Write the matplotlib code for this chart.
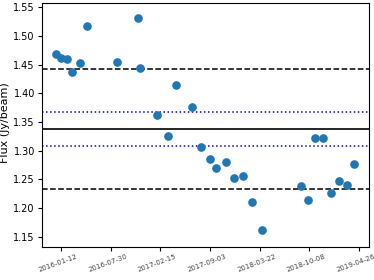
import matplotlib

matplotlib.use("Agg")
import matplotlib.dates as mdates
import matplotlib.pyplot as plt
import pandas as pd
from matplotlib.transforms import ScaledTranslation

obs_dates = [
    "2015-12-23", "2016-01-13", "2016-02-04", "2016-02-26", "2016-03-27",
    "2016-04-26", "2016-08-26", "2016-11-18", "2016-11-24", "2017-02-03",
    "2017-03-18", "2017-04-19", "2017-06-23", "2017-07-30", "2017-09-01",
    "2017-09-28", "2017-11-07", "2017-12-08", "2018-01-14", "2018-02-17",
    "2018-03-30", "2018-09-06", "2018-10-04", "2018-11-01", "2018-12-03",
    "2019-01-02", "2019-02-04", "2019-03-10", "2019-04-07",
]
flux = [
    1.468, 1.461, 1.460, 1.438, 1.453,
    1.518, 1.455, 1.532, 1.444, 1.362,
    1.326, 1.414, 1.376, 1.307, 1.286,
    1.269, 1.280, 1.252, 1.256, 1.210,
    1.162, 1.239, 1.214, 1.323, 1.323,
    1.226, 1.247, 1.240, 1.277,
]

flux_mean = 1.338
err_inner = 0.030   # dotted blue band
err_outer = 0.105   # dashed black band

tick_dates = ["2016-01-12", "2016-07-30", "2017-02-15", "2017-09-03",
              "2018-03-22", "2018-10-08", "2019-04-26"]

x = pd.to_datetime(obs_dates)

fig, ax = plt.subplots(figsize=(3.74, 2.8), dpi=100)
ax.plot(x, flux, "o", color="#1f77b4", markersize=5.2, zorder=3)

ax.axhline(flux_mean, color="black", linewidth=1.2)
ax.axhline(flux_mean + err_inner, color="blue", linestyle=":", linewidth=1.1)
ax.axhline(flux_mean - err_inner, color="blue", linestyle=":", linewidth=1.1)
ax.axhline(flux_mean + err_outer, color="black", linestyle="--", linewidth=1.1)
ax.axhline(flux_mean - err_outer, color="black", linestyle="--", linewidth=1.1)

ax.set_xlim(pd.Timestamp("2015-10-27"), pd.Timestamp("2019-06-04"))
ax.set_ylim(1.1326, 1.558)
ax.set_yticks([1.15, 1.20, 1.25, 1.30, 1.35, 1.40, 1.45, 1.50, 1.55])
ax.set_xticks(pd.to_datetime(tick_dates))
ax.xaxis.set_major_formatter(mdates.DateFormatter("%Y-%m-%d"))
ax.tick_params(axis="y", labelsize=7, length=3, width=0.8, pad=2)
ax.tick_params(axis="x", labelsize=5.0, labelrotation=20, length=3, width=0.8, pad=1.5)
shift = ScaledTranslation(-3 / 100, 0, fig.dpi_scale_trans)
for lab in ax.get_xticklabels():
    lab.set_color("#444444")
    lab.set_transform(lab.get_transform() + shift)
ax.set_ylabel("Flux (Jy/beam)", fontsize=8)
ax.yaxis.set_label_coords(-0.098, 0.51)

fig.subplots_adjust(left=0.112, right=0.986, top=0.99, bottom=0.119)
fig.savefig("out.png", dpi=100)
